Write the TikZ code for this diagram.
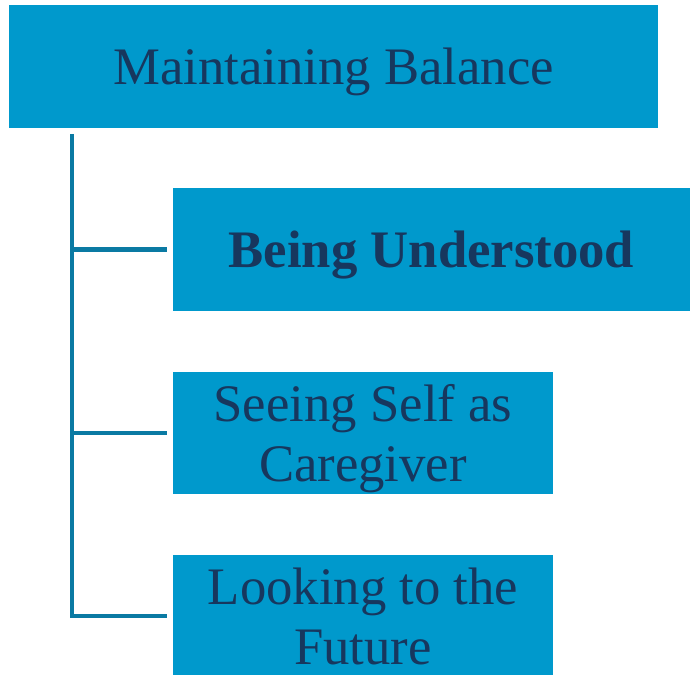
\documentclass[tikz,border=0pt]{standalone}
\usepackage{fontspec}
\setmainfont{Liberation Serif}
\usetikzlibrary{positioning}
\definecolor{boxblue}{RGB}{0,153,204}
\definecolor{linkblue}{RGB}{10,122,163}
\definecolor{textnavy}{RGB}{23,55,94}

\begin{document}
\begin{tikzpicture}[x=0.02cm, y=-0.02cm,
  topic/.style={fill=boxblue, text=textnavy, align=center, inner sep=0pt,
    text depth=0pt, font=\fontsize{30}{34}\selectfont},
  link/.style={draw=linkblue, line width=2.8pt}]
\useasboundingbox (0,0) rectangle (690,675);
% theme
\node[topic, minimum width=12.98cm, minimum height=2.46cm] (balance) at (333.5,66.5) {Maintaining Balance};
% sub-themes
\node[topic, minimum width=10.34cm, minimum height=2.46cm] (understood) at (431.5,249.5) {\textbf{Being Understood}};
\node[topic, minimum width=7.6cm, minimum height=2.44cm] (caregiver) at (363,433) {Seeing Self as\\Caregiver};
\node[topic, minimum width=7.6cm, minimum height=2.44cm] (future) at (363,616) {Looking to the\\Future};

% tree lines
\coordinate (spine) at (72,134);
\draw[link] (spine) |- ([xshift=-0.12cm]future.west);
\draw[link] (spine |- understood.west) -- ([xshift=-0.12cm]understood.west);
\draw[link] (spine |- caregiver.west) -- ([xshift=-0.12cm]caregiver.west);
\end{tikzpicture}
\end{document}
